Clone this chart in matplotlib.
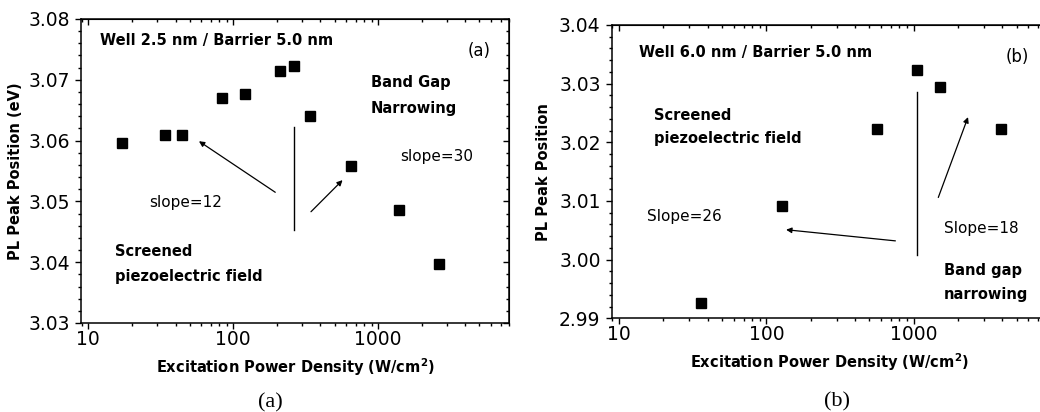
import matplotlib
matplotlib.use('Agg')
import matplotlib.pyplot as plt
from matplotlib.ticker import MultipleLocator, FixedLocator, LogLocator, NullFormatter

# panel (a): well 2.5 nm / barrier 5.0 nm
power_a = [17, 34, 44, 84, 120, 210, 261, 340, 648, 1396, 2610]
peak_a = [3.0596, 3.0610, 3.0610, 3.0670, 3.0677, 3.0714, 3.0722, 3.0640, 3.0558, 3.0486, 3.0397]

# panel (b): well 6.0 nm / barrier 5.0 nm
power_b = [36.2, 127, 565, 1055, 1510, 3935]
peak_b = [2.9926, 3.0091, 3.0222, 3.0323, 3.0294, 3.0222]

# guide line and arrows (x, y) in data units
vline_a = [(263, 3.0623), (263, 3.0453)]
arrows_a = [((195, 3.0515), (58, 3.0599)), ((344, 3.0483), (568, 3.0535))]
vline_b = [(1055, 3.0285), (1055, 3.0008)]
arrows_b = [((751, 3.0032), (136, 3.0051)), ((1469, 3.0106), (2338, 3.0243))]

plt.rcParams['font.family'] = ['DejaVu Sans']
W, H = 1040, 412
fig = plt.figure(figsize=(10.4, 4.12), dpi=100)


def px(x, y):
    return x / W, 1 - y / H


def set_locators(axis_x, axis_y):
    if axis_x is not None:
        axis_x.set_major_locator(FixedLocator([10, 100, 1000]))
        axis_x.set_minor_locator(LogLocator(base=10, subs=range(2, 10)))
        axis_x.set_minor_formatter(NullFormatter())
    if axis_y is not None:
        axis_y.set_major_locator(MultipleLocator(0.01))
        axis_y.set_minor_locator(MultipleLocator(0.002))


def style(ax, ylim):
    ax.set_xscale('log')
    ax.set_xlim(8.9, 8000)
    ax.set_ylim(*ylim)
    set_locators(ax.xaxis, ax.yaxis)
    ax.set_xticklabels(['10', '100', '1000'])
    ax.yaxis.set_major_formatter(plt.FormatStrFormatter('%.2f'))
    ax.tick_params(which='both', direction='out', labelsize=13.5, width=1)
    ax.tick_params(which='major', length=4.5)
    ax.tick_params(which='minor', length=2.5)
    ax.tick_params(axis='x', pad=0.5)
    for sp in ax.spines.values():
        sp.set_linewidth(1.1)
    # inward ticks on top and right
    top = ax.secondary_xaxis('top')
    set_locators(top.xaxis, None)
    top.tick_params(which='both', direction='in', labeltop=False, width=1)
    top.tick_params(which='major', length=4.5)
    top.tick_params(which='minor', length=2.5)
    right = ax.secondary_yaxis('right')
    set_locators(None, right.yaxis)
    right.tick_params(which='both', direction='in', labelright=False, width=1)
    right.tick_params(which='major', length=4.5)
    right.tick_params(which='minor', length=2.5)
    ax.set_xlabel('Excitation Power Density (W/cm$^{\\mathbf{2}}$)', fontsize=10.5,
                  fontweight='bold', labelpad=5)


def draw_guides(ax, vline, arrows):
    ax.plot([vline[0][0], vline[1][0]], [vline[0][1], vline[1][1]], color='black', lw=1)
    for start, end in arrows:
        ax.annotate('', xy=end, xytext=start,
                    arrowprops=dict(arrowstyle='-|>', color='black', lw=0.9,
                                    mutation_scale=8, shrinkA=0, shrinkB=0))


tkw = dict(fontsize=11, va='center', ha='left')
bkw = dict(fontsize=10.5, va='center', ha='left', fontweight='bold')

# ---- (a)
ax1 = fig.add_axes([81 / W, 1 - 323 / H, 428 / W, 304 / H])
ax1.plot(power_a, peak_a, 's', color='black', markersize=7)
style(ax1, (3.03, 3.08))
ax1.set_ylabel('PL Peak Position (eV)', fontsize=10.5, fontweight='bold', labelpad=4)
draw_guides(ax1, vline_a, arrows_a)

fig.text(*px(100, 41), 'Well 2.5 nm / Barrier 5.0 nm', **bkw)
fig.text(*px(479, 51), '(a)', fontsize=12, va='center', ha='center')
fig.text(*px(371, 83), 'Band Gap', **bkw)
fig.text(*px(371, 108), 'Narrowing', **bkw)
fig.text(*px(400, 156), 'slope=30', **tkw)
fig.text(*px(149, 203), 'slope=12', **tkw)
fig.text(*px(115, 252), 'Screened', **bkw)
fig.text(*px(115, 277), 'piezoelectric field', **bkw)

# ---- (b)
ax2 = fig.add_axes([611.7 / W, 1 - 318.3 / H, 435 / W, 293.3 / H])
ax2.plot(power_b, peak_b, 's', color='black', markersize=7)
style(ax2, (2.99, 3.04))
ax2.set_ylabel('PL Peak Position', fontsize=10.5, fontweight='bold', labelpad=6)
draw_guides(ax2, vline_b, arrows_b)

fig.text(*px(639, 52), 'Well 6.0 nm / Barrier 5.0 nm', **bkw)
fig.text(*px(1017, 57), '(b)', fontsize=12, va='center', ha='center')
fig.text(*px(654, 115), 'Screened', **bkw)
fig.text(*px(654, 139), 'piezoelectric field', **bkw)
fig.text(*px(647, 217), 'Slope=26', **tkw)
fig.text(*px(944, 228), 'Slope=18', **tkw)
fig.text(*px(944, 270), 'Band gap', **bkw)
fig.text(*px(944, 294), 'narrowing', **bkw)

# captions
fig.text(*px(270, 403), '(a)', family='Liberation Serif', fontsize=16, ha='center', va='center')
fig.text(*px(837, 402), '(b)', family='Liberation Serif', fontsize=16, ha='center', va='center')

fig.savefig('out.png', dpi=100)
